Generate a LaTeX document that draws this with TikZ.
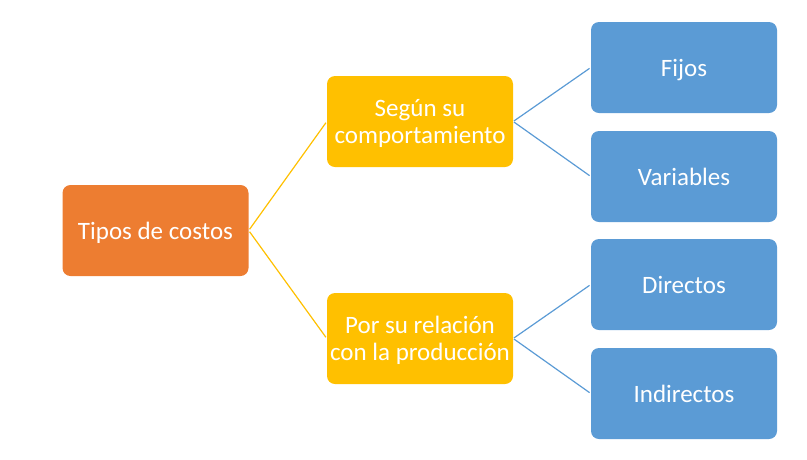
\documentclass[tikz,border=0pt]{standalone}
\usepackage{fontspec}
\setmainfont{Carlito}
\usetikzlibrary{calc}

\tikzset{
  costbox/.style={rounded corners=8pt, minimum width=186pt, minimum height=91pt,
    text=white, align=center, font=\fontsize{25}{27}\selectfont, inner sep=0pt, text depth=0pt},
  yellowline/.style={draw=costyellow, line width=1.2pt, shorten <=1.5pt, shorten >=1.5pt},
  blueline/.style={draw=costblue, line width=1.2pt, shorten <=1pt, shorten >=1.5pt}
}
\definecolor{costorange}{HTML}{ED7D31}
\definecolor{costyellow}{HTML}{FFC000}
\definecolor{costblue}{HTML}{5B9BD5}

\begin{document}
\begin{tikzpicture}[x=1pt, y=-1pt]
            \useasboundingbox (0,0) rectangle (807,459);
            \node[costbox, fill=costorange] (tipos) at (155.5,230.5) {Tipos de costos};
            \node[costbox, fill=costyellow] (comport) at (420,121.5) {Según su\\comportamiento};
            \node[costbox, fill=costyellow] (relacion) at (420,338.5) {Por su relación\\con la producción};
            \node[costbox, fill=costblue] (fijos) at (684,67.5) {Fijos};
            \node[costbox, fill=costblue] (variables) at (684,176.5) {Variables};
            \node[costbox, fill=costblue] (directos) at (684,284.5) {Directos};
            \node[costbox, fill=costblue] (indirectos) at (684,393.5) {Indirectos};
            \draw[yellowline] (tipos.east) -- (comport.west);
            \draw[yellowline] (tipos.east) -- (relacion.west);
            \draw[blueline] (comport.east) -- (fijos.west);
            \draw[blueline] (comport.east) -- (variables.west);
            \draw[blueline] (relacion.east) -- (directos.west);
            \draw[blueline] (relacion.east) -- (indirectos.west);
        \end{tikzpicture}
\end{document}
